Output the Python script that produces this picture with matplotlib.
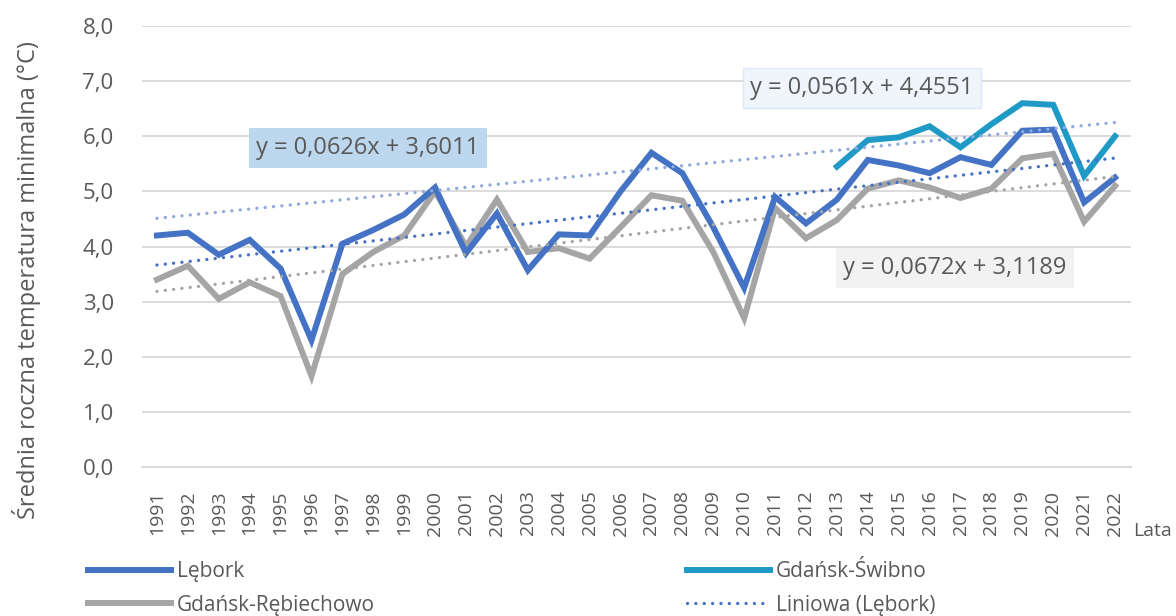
import matplotlib
matplotlib.use("Agg")
import matplotlib.pyplot as plt
import numpy as np

years = list(range(1991, 2023))
lebork = [4.20, 4.25, 3.85, 4.12, 3.60, 2.30, 4.05, 4.30, 4.58, 5.07,
          3.88, 4.60, 3.57, 4.22, 4.20, 5.00, 5.70, 5.33, 4.35, 3.25,
          4.90, 4.42, 4.85, 5.57, 5.47, 5.33, 5.62, 5.48, 6.10, 6.12,
          4.80, 5.25]
rebiechowo = [3.40, 3.65, 3.05, 3.35, 3.10, 1.65, 3.50, 3.90, 4.20, 5.00,
              4.00, 4.85, 3.90, 3.97, 3.78, 4.35, 4.93, 4.83, 3.90, 2.70,
              4.70, 4.15, 4.48, 5.05, 5.20, 5.07, 4.88, 5.05, 5.60, 5.68,
              4.45, 5.10]
swibno_years = list(range(2013, 2023))
swibno = [5.45, 5.93, 5.98, 6.18, 5.80, 6.22, 6.60, 6.57, 5.28, 6.00]

# trend equations as shown on the chart (x = 1..32)
trend_lebork = (0.0626, 3.6011)
trend_swibno = (0.0561, 4.4551)
trend_rebiechowo = (0.0672, 3.1189)

plt.rcParams['font.family'] = ['Open Sans', 'DejaVu Sans']
txt = '#595959'

fig = plt.figure(figsize=(11.76, 6.16), dpi=100)
ax = fig.add_axes([141.5/1176, 1-467/616, (1130.5-141.5)/1176, (467-26)/616])

idx = np.arange(len(years))
sidx = np.array([years.index(y) for y in swibno_years])
xn = idx + 1

c_leb = '#4472C4'
c_swi = '#1F9AC6'
c_reb = '#A5A5A5'
dot = (0, (0.01, 2.5))

ax.plot(idx, rebiechowo, color=c_reb, lw=4.3, solid_joinstyle='miter', label='Gdańsk-Rębiechowo', zorder=3)
ax.plot(idx, lebork, color=c_leb, lw=4.3, solid_joinstyle='miter', label='Lębork', zorder=4)
ax.plot(sidx, swibno, color=c_swi, lw=4.3, solid_joinstyle='miter', label='Gdańsk-Świbno', zorder=5)

ax.plot(idx, trend_lebork[0]*xn + trend_lebork[1], color=c_leb, lw=2.4, ls=dot,
        dash_capstyle='round', label='Liniowa (Lębork)', zorder=6)
ax.plot(idx, trend_swibno[0]*xn + trend_swibno[1], color='#8EA9DB', lw=2.4, ls=dot,
        dash_capstyle='round', label='Liniowa (Gdańsk-Świbno)', zorder=6)
ax.plot(idx, trend_rebiechowo[0]*xn + trend_rebiechowo[1], color='#A5A5A5', lw=2.4, ls=dot,
        dash_capstyle='round', label='Liniowa (Gdańsk-Rębiechowo)', zorder=6)

ax.set_xlim(-0.5, len(years)-0.5)
ax.set_ylim(0, 8)
yt = np.arange(0, 8.01, 1)
ax.set_yticks(yt)
ax.set_yticklabels([f"{v:.1f}".replace('.', ',') for v in yt], fontsize=16, color=txt)
ax.set_xticks(idx)
ax.set_xticklabels([str(y) for y in years], rotation=90, fontsize=14, color=txt)
ax.tick_params(axis='y', length=0, pad=20)
ax.tick_params(axis='x', length=0, pad=17)
ax.grid(axis='y', color='#D9D9D9', lw=1.3)
ax.set_axisbelow(True)
for s in ['top', 'right', 'left']:
    ax.spines[s].set_visible(False)
ax.spines['bottom'].set_color('#D9D9D9')
ax.spines['bottom'].set_linewidth(1.3)

fig.text(27/1176, 1-280/616, 'Średnia roczna temperatura minimalna (°C)', fontsize=17,
         color=txt, rotation=90, ha='center', va='center')
fig.text(1133/1176, 1-531/616, 'Lata', fontsize=14, color=txt, ha='left', va='center')

bbox_kw = dict(boxstyle='square,pad=0.33')
fig.text(368/1176, 1-148/616, 'y = 0,0626x + 3,6011', fontsize=17, color=txt, ha='center', va='center',
         bbox=dict(facecolor='#BDD7EE', edgecolor='none', **bbox_kw))
fig.text(862/1176, 1-88/616, 'y = 0,0561x + 4,4551', fontsize=17, color=txt, ha='center', va='center',
         bbox=dict(facecolor='#EFF5FB', edgecolor='#DCE8F5', **bbox_kw))
fig.text(955/1176, 1-268/616, 'y = 0,0672x + 3,1189', fontsize=17, color=txt, ha='center', va='center',
         bbox=dict(facecolor='#F2F2F2', edgecolor='none', **bbox_kw))

handles, labels = ax.get_legend_handles_labels()
order = ['Lębork', 'Gdańsk-Rębiechowo', 'Gdańsk-Świbno', 'Liniowa (Lębork)']
hmap = dict(zip(labels, handles))
leg = fig.legend([hmap[l] for l in order], order, ncol=2, loc='upper left',
                 bbox_to_anchor=(88/1176, 1-561/616), frameon=False, fontsize=15,
                 handlelength=4.0, handletextpad=0.25, columnspacing=15.0, labelspacing=0.6,
                 borderaxespad=0, borderpad=0)
for t in leg.get_texts():
    t.set_color(txt)

fig.savefig('out.png', dpi=100)
